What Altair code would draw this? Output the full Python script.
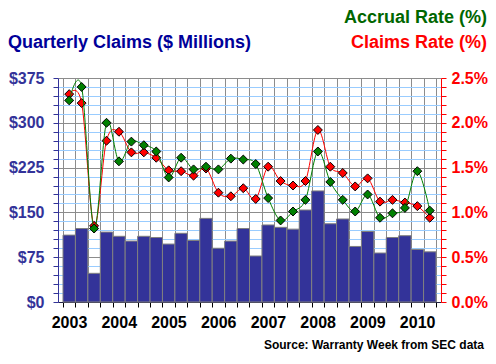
import altair as alt
import pandas as pd

# ---- data ----
quarters = list(range(30))  # 2003 Q1 .. 2010 Q2
claims = [112, 123, 48, 117, 110, 102, 110, 108, 97, 115,
          103, 140, 90, 102, 123, 77, 129, 125, 122, 154,
          186, 131, 139, 93, 118, 82, 108, 111, 88, 84]
accrual_rate = [2.25, 2.40, 0.82, 2.00, 1.57, 1.79, 1.75, 1.68, 1.39, 1.61,
                1.48, 1.51, 1.48, 1.60, 1.59, 1.54, 1.16, 0.91, 1.01, 1.14,
                1.68, 1.34, 1.14, 1.01, 1.20, 0.94, 0.99, 1.05, 1.46, 1.02]
claims_rate = [2.32, 2.22, 0.85, 1.80, 1.90, 1.67, 1.67, 1.61, 1.47, 1.46,
               1.41, 1.49, 1.22, 1.18, 1.27, 1.15, 1.51, 1.35, 1.30, 1.35,
               1.92, 1.51, 1.44, 1.29, 1.38, 1.12, 1.14, 1.11, 1.07, 0.94]
first_year = 2003

df = pd.DataFrame({
    "q": quarters,
    "q1": [q + 1 for q in quarters],
    "qm": [q + 0.5 for q in quarters],
    "claims": claims,
    "accrual": accrual_rate,
    "crate": claims_rate,
})

FONT = "Liberation Sans"
W, H = 383, 224
BLUE = "#333399"
GRAY = "#8c8c8c"
LIGHT = "#99ccff"

x_scale = alt.Scale(domain=[0, 30], nice=False, zero=False)
rate_scale = alt.Scale(domain=[0, 2.5], nice=False)

x_axis = alt.Axis(values=list(range(31)),
                  labelExpr=f"datum.value % 4 == 0 && datum.value < 30 ? '' + ({first_year} + datum.value / 4) : ''",
                  labelOffset=6, labelOverlap=False, labelFlush=False,
                  labelFont=FONT, labelFontSize=16, labelFontWeight="bold",
                  labelColor="#000000", labelPadding=7,
                  tickColor="#000000", tickSize=5, domainColor="#222244",
                  grid=True, gridColor=GRAY, gridWidth=1, title=None)

rate_axis = alt.Axis(orient="right", values=[i / 10 for i in range(26)],
                     labelExpr="round(datum.value * 10) % 5 == 0 ? format(datum.value, '.1f') + '%' : ''",
                     labelOverlap=False, labelFlush=False,
                     labelFont=FONT, labelFontSize=16, labelFontWeight="bold",
                     labelColor="#ff0000", labelPadding=5,
                     tickColor="#ff0000", tickSize=5, domainColor="#ff0000",
                     grid=False, title=None)

bars = alt.Chart(df).mark_bar(fill=BLUE, stroke="#808080", strokeWidth=1, orient="vertical").encode(
    x=alt.X("q:Q", scale=x_scale, axis=x_axis),
    x2="q1",
    y=alt.Y("claims:Q", scale=alt.Scale(domain=[0, 375], nice=False),
            axis=alt.Axis(values=list(range(0, 376, 15)),
                          labelExpr="datum.value % 75 == 0 ? '$' + datum.value : ''",
                          labelOverlap=False, labelFlush=False,
                          labelFont=FONT, labelFontSize=16, labelFontWeight="bold",
                          labelColor=BLUE, labelPadding=9,
                          tickColor=BLUE, tickSize=5, domainColor=BLUE,
                          grid=True, gridWidth=1, title=None,
                          gridColor={"condition": {"test": "datum.value % 75 == 0", "value": GRAY},
                                     "value": LIGHT})),
    y2=alt.datum(0),
)

def rate_line(field, color):
    line = alt.Chart(df).mark_line(color=color, strokeWidth=1, interpolate="cardinal").encode(
        x=alt.X("qm:Q", scale=x_scale, axis=x_axis),
        y=alt.Y(f"{field}:Q", scale=rate_scale, axis=rate_axis),
    )
    pts = alt.Chart(df).mark_point(shape="diamond", filled=True, fill=color, stroke="#000000",
                                   strokeWidth=1, size=80, opacity=1).encode(
        x=alt.X("qm:Q", scale=x_scale, axis=x_axis),
        y=alt.Y(f"{field}:Q", scale=rate_scale, axis=rate_axis),
    )
    return [line, pts]

rates = alt.layer(*rate_line("crate", "#ff0000"), *rate_line("accrual", "#008000"))

def label(text, x, y, color, size, align):
    return alt.Chart(pd.DataFrame({"t": [text]})).mark_text(
        align=align, baseline="alphabetic", font=FONT, fontSize=size,
        fontWeight="bold", color=color).encode(
        x=alt.value(x), y=alt.value(y), text="t:N")

texts = [
    label("Quarterly Claims ($ Millions)", -50, -30, "#000099", 18, "left"),
    label("Accrual Rate (%)", 429, -55, "#006600", 18, "right"),
    label("Claims Rate (%)", 429, -30, "#ff0000", 18, "right"),
    label("Source: Warranty Week from SEC data", 426, 271, "#000000", 12, "right"),
]

chart = alt.layer(bars, rates, *texts).resolve_scale(y="independent").properties(
    width=W, height=H, autosize="none",
    padding={"left": 50, "top": 70, "right": 47, "bottom": 50},
).configure_view(strokeWidth=0)

chart.save("out.html", embed_options={"renderer": "svg", "actions": False})
